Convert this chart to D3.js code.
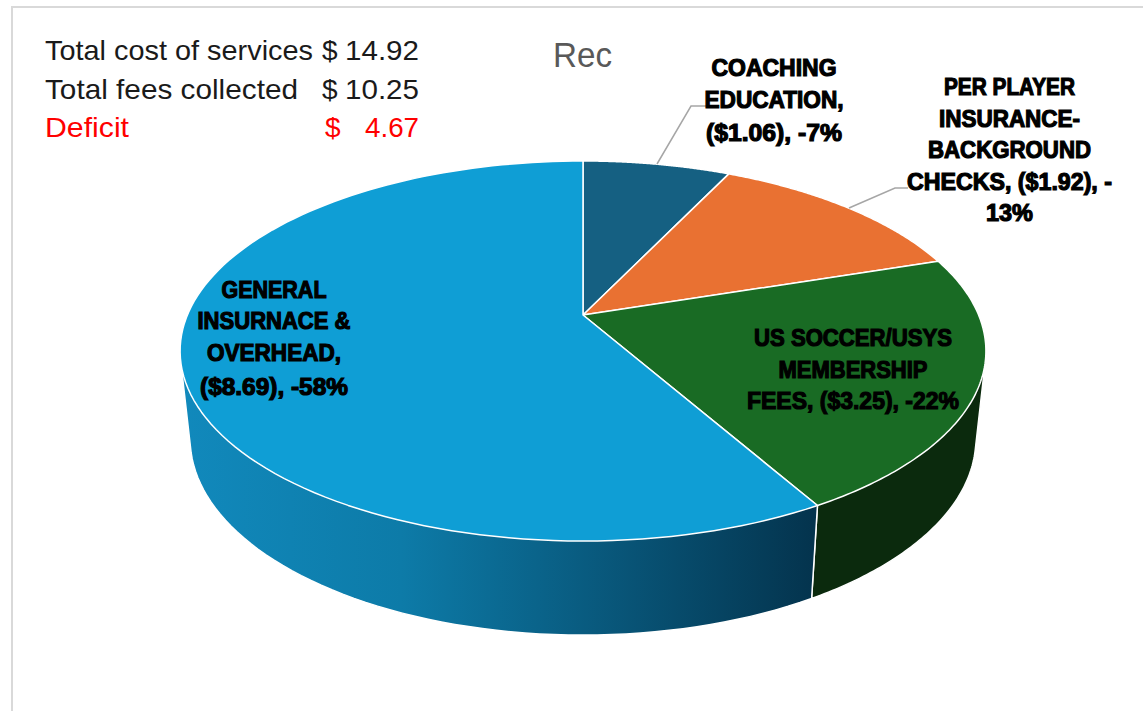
<!DOCTYPE html>
<meta charset="utf-8">
<title>Rec</title>
<style>
html, body { margin: 0; background: #fff; }
svg { display: block; }
text { font-family: "Liberation Sans Narrow", "Liberation Sans", sans-serif; }
.label { font-weight: bold; font-size: 24px; fill: #000; stroke: #000; stroke-width: 1.2px; text-anchor: middle; }
.note { font-size: 28px; fill: #1a1a1a; }
</style>
<script src="https://d3js.org/d3.v7.min.js"></script>
<div id="chart"></div>
<script>

var categories = ["COACHING EDUCATION", "PER PLAYER INSURANCE-BACKGROUND CHECKS", "US SOCCER/USYS MEMBERSHIP FEES", "GENERAL INSURNACE & OVERHEAD"],
    values = [1.06, 1.92, 3.25, 8.69],
    topColors = ["#156082", "#e97132", "#196b24", "#0f9ed5"],
    sideColors = ["#0b3041", "#74391a", "#0b2a0d", "url(#blueSide)"];

var labelLines = [
  ["COACHING", "EDUCATION,", "($1.06), -7%"],
  ["PER PLAYER", "INSURANCE-", "BACKGROUND", "CHECKS, ($1.92), -", "13%"],
  ["US SOCCER/USYS", "MEMBERSHIP", "FEES, ($3.25), -22%"],
  ["GENERAL", "INSURNACE &", "OVERHEAD,", "($8.69), -58%"]
];

var noteLabels = ["Total cost of services", "Total fees collected", "Deficit"],
    noteAmounts = ["14.92", "10.25", "4.67"];

var width = 1143, height = 711;

var svg = d3.select("#chart").append("svg")
    .attr("width", width)
    .attr("height", height);

var grad = svg.append("defs").append("linearGradient")
    .attr("id", "blueSide")
    .attr("gradientUnits", "userSpaceOnUse")
    .attr("x1", 180).attr("x2", 812).attr("y1", 0).attr("y2", 0);
grad.append("stop").attr("offset", "0").attr("stop-color", "#1189bc");
grad.append("stop").attr("offset", "0.35").attr("stop-color", "#0d7ba8");
grad.append("stop").attr("offset", "1").attr("stop-color", "#04344e");

// chart frame, cut off by the screenshot on the right and bottom
svg.append("path")
    .attr("d", "M12,711V7H1143")
    .attr("fill", "none")
    .attr("stroke", "#d9d9d9")
    .attr("stroke-width", 2);

// perspective tilt of the pie plate, apex does not sit at the ellipse centre
var cx = 583, apexY = 315, k = -0.1895, a = 395.6, b = 123.5;

function topPoint(t) {
  var u = Math.sin(t), v = -Math.cos(t), w = 1 + k * v;
  return [cx + a * u / w, (apexY + b * v) / w];
}

function bottomPoint(t) {
  var p = topPoint(t);
  return [cx + (p[0] - cx) * 0.975, 439 + (p[1] - 351) * 1.032];
}

function arcAngles(d, n) {
  return d3.range(n + 1).map(function(i) {
    return d.startAngle + (d.endAngle - d.startAngle) * i / n;
  });
}

var pie = d3.pie().sort(null);
var slices = pie(values);
var line = d3.line();

// side wall first, the top plate covers what is behind it
svg.selectAll("path.side")
    .data(slices)
    .enter().append("path")
    .attr("class", "side")
    .attr("d", function(d) {
      var ts = arcAngles(d, 120);
      var hull = d3.polygonHull(ts.map(topPoint).concat(ts.map(bottomPoint)));
      return line(hull) + "Z";
    })
    .attr("fill", function(d, i) { return sideColors[i]; })
    .attr("stroke", "#fff")
    .attr("stroke-width", 1.5)
    .attr("stroke-linejoin", "round");

svg.selectAll("path.top")
    .data(slices)
    .enter().append("path")
    .attr("class", "top")
    .attr("d", function(d) {
      return line([[cx, apexY]].concat(arcAngles(d, 120).map(topPoint))) + "Z";
    })
    .attr("fill", function(d, i) { return topColors[i]; })
    .attr("stroke", "#fff")
    .attr("stroke-width", 1.5)
    .attr("stroke-linejoin", "round");

// leader lines
var leaders = [
  [[657, 164], [691, 106], [707, 106]],
  [[849, 208], [895, 188], [908, 188]]
];
svg.selectAll("path.leader")
    .data(leaders)
    .enter().append("path")
    .attr("class", "leader")
    .attr("d", line)
    .attr("fill", "none")
    .attr("stroke", "#a6a6a6")
    .attr("stroke-width", 1.5);

// label layout: centre x, line baselines, line widths
var labelLayout = [
  {x: 774, y: [76, 108, 141], w: [125, 139, 136]},
  {x: 1009.5, y: [95, 127, 158, 190, 221], w: [131, 141, 163, 205, 47]},
  {x: 853, y: [346, 378, 409], w: [198, 149, 212]},
  {x: 274, y: [298, 329, 361, 395], w: [105, 153, 134, 148]}
];

labelLines.forEach(function(lines, i) {
  var lay = labelLayout[i];
  svg.append("g").selectAll("text")
      .data(lines)
      .enter().append("text")
      .attr("class", "label")
      .attr("x", lay.x)
      .attr("y", function(d, j) { return lay.y[j]; })
      .attr("textLength", function(d, j) { return lay.w[j]; })
      .attr("lengthAdjust", "spacingAndGlyphs")
      .text(function(d) { return d; });
});

svg.append("text")
    .attr("x", 553).attr("y", 67)
    .attr("textLength", 59).attr("lengthAdjust", "spacingAndGlyphs")
    .attr("font-size", 35)
    .attr("fill", "#595959")
    .text("Rec");

var noteY = [60, 99, 137],
    noteW = [268, 253, 84],
    amountW = [74, 74, 54],
    noteFill = ["#1a1a1a", "#1a1a1a", "#ff0000"];

noteLabels.forEach(function(d, i) {
  svg.append("text").attr("class", "note")
      .attr("x", 45).attr("y", noteY[i])
      .attr("textLength", noteW[i]).attr("lengthAdjust", "spacingAndGlyphs")
      .style("fill", noteFill[i])
      .text(d);
  svg.append("text").attr("class", "note")
      .attr("x", i == 2 ? 325 : 322).attr("y", noteY[i])
      .style("fill", noteFill[i])
      .text("$");
  svg.append("text").attr("class", "note")
      .attr("x", 419 - amountW[i]).attr("y", noteY[i])
      .attr("textLength", amountW[i]).attr("lengthAdjust", "spacingAndGlyphs")
      .style("fill", noteFill[i])
      .text(noteAmounts[i]);
});

</script>
